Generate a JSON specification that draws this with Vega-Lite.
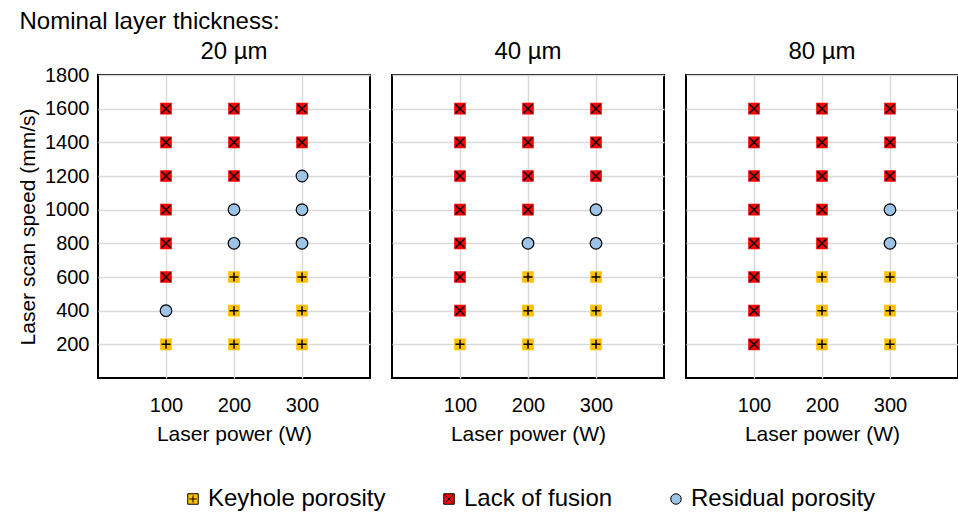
{
  "$schema": "https://vega.github.io/schema/vega-lite/v6.json",
  "padding": {"left": 17, "top": 10, "right": 0, "bottom": 0},
  "title": {"text": "Nominal layer thickness:", "anchor": "start", "frame": "bounds", "fontSize": 24, "font": "Liberation Sans", "fontWeight": "normal", "color": "black", "offset": 6, "dx": 2},
  "data": {"values": [
    {"t": "20 µm", "p": 100, "s": 200, "c": "Keyhole porosity"},
    {"t": "20 µm", "p": 100, "s": 400, "c": "Residual porosity"},
    {"t": "20 µm", "p": 100, "s": 600, "c": "Lack of fusion"},
    {"t": "20 µm", "p": 100, "s": 800, "c": "Lack of fusion"},
    {"t": "20 µm", "p": 100, "s": 1000, "c": "Lack of fusion"},
    {"t": "20 µm", "p": 100, "s": 1200, "c": "Lack of fusion"},
    {"t": "20 µm", "p": 100, "s": 1400, "c": "Lack of fusion"},
    {"t": "20 µm", "p": 100, "s": 1600, "c": "Lack of fusion"},
    {"t": "20 µm", "p": 200, "s": 200, "c": "Keyhole porosity"},
    {"t": "20 µm", "p": 200, "s": 400, "c": "Keyhole porosity"},
    {"t": "20 µm", "p": 200, "s": 600, "c": "Keyhole porosity"},
    {"t": "20 µm", "p": 200, "s": 800, "c": "Residual porosity"},
    {"t": "20 µm", "p": 200, "s": 1000, "c": "Residual porosity"},
    {"t": "20 µm", "p": 200, "s": 1200, "c": "Lack of fusion"},
    {"t": "20 µm", "p": 200, "s": 1400, "c": "Lack of fusion"},
    {"t": "20 µm", "p": 200, "s": 1600, "c": "Lack of fusion"},
    {"t": "20 µm", "p": 300, "s": 200, "c": "Keyhole porosity"},
    {"t": "20 µm", "p": 300, "s": 400, "c": "Keyhole porosity"},
    {"t": "20 µm", "p": 300, "s": 600, "c": "Keyhole porosity"},
    {"t": "20 µm", "p": 300, "s": 800, "c": "Residual porosity"},
    {"t": "20 µm", "p": 300, "s": 1000, "c": "Residual porosity"},
    {"t": "20 µm", "p": 300, "s": 1200, "c": "Residual porosity"},
    {"t": "20 µm", "p": 300, "s": 1400, "c": "Lack of fusion"},
    {"t": "20 µm", "p": 300, "s": 1600, "c": "Lack of fusion"},
    {"t": "40 µm", "p": 100, "s": 200, "c": "Keyhole porosity"},
    {"t": "40 µm", "p": 100, "s": 400, "c": "Lack of fusion"},
    {"t": "40 µm", "p": 100, "s": 600, "c": "Lack of fusion"},
    {"t": "40 µm", "p": 100, "s": 800, "c": "Lack of fusion"},
    {"t": "40 µm", "p": 100, "s": 1000, "c": "Lack of fusion"},
    {"t": "40 µm", "p": 100, "s": 1200, "c": "Lack of fusion"},
    {"t": "40 µm", "p": 100, "s": 1400, "c": "Lack of fusion"},
    {"t": "40 µm", "p": 100, "s": 1600, "c": "Lack of fusion"},
    {"t": "40 µm", "p": 200, "s": 200, "c": "Keyhole porosity"},
    {"t": "40 µm", "p": 200, "s": 400, "c": "Keyhole porosity"},
    {"t": "40 µm", "p": 200, "s": 600, "c": "Keyhole porosity"},
    {"t": "40 µm", "p": 200, "s": 800, "c": "Residual porosity"},
    {"t": "40 µm", "p": 200, "s": 1000, "c": "Lack of fusion"},
    {"t": "40 µm", "p": 200, "s": 1200, "c": "Lack of fusion"},
    {"t": "40 µm", "p": 200, "s": 1400, "c": "Lack of fusion"},
    {"t": "40 µm", "p": 200, "s": 1600, "c": "Lack of fusion"},
    {"t": "40 µm", "p": 300, "s": 200, "c": "Keyhole porosity"},
    {"t": "40 µm", "p": 300, "s": 400, "c": "Keyhole porosity"},
    {"t": "40 µm", "p": 300, "s": 600, "c": "Keyhole porosity"},
    {"t": "40 µm", "p": 300, "s": 800, "c": "Residual porosity"},
    {"t": "40 µm", "p": 300, "s": 1000, "c": "Residual porosity"},
    {"t": "40 µm", "p": 300, "s": 1200, "c": "Lack of fusion"},
    {"t": "40 µm", "p": 300, "s": 1400, "c": "Lack of fusion"},
    {"t": "40 µm", "p": 300, "s": 1600, "c": "Lack of fusion"},
    {"t": "80 µm", "p": 100, "s": 200, "c": "Lack of fusion"},
    {"t": "80 µm", "p": 100, "s": 400, "c": "Lack of fusion"},
    {"t": "80 µm", "p": 100, "s": 600, "c": "Lack of fusion"},
    {"t": "80 µm", "p": 100, "s": 800, "c": "Lack of fusion"},
    {"t": "80 µm", "p": 100, "s": 1000, "c": "Lack of fusion"},
    {"t": "80 µm", "p": 100, "s": 1200, "c": "Lack of fusion"},
    {"t": "80 µm", "p": 100, "s": 1400, "c": "Lack of fusion"},
    {"t": "80 µm", "p": 100, "s": 1600, "c": "Lack of fusion"},
    {"t": "80 µm", "p": 200, "s": 200, "c": "Keyhole porosity"},
    {"t": "80 µm", "p": 200, "s": 400, "c": "Keyhole porosity"},
    {"t": "80 µm", "p": 200, "s": 600, "c": "Keyhole porosity"},
    {"t": "80 µm", "p": 200, "s": 800, "c": "Lack of fusion"},
    {"t": "80 µm", "p": 200, "s": 1000, "c": "Lack of fusion"},
    {"t": "80 µm", "p": 200, "s": 1200, "c": "Lack of fusion"},
    {"t": "80 µm", "p": 200, "s": 1400, "c": "Lack of fusion"},
    {"t": "80 µm", "p": 200, "s": 1600, "c": "Lack of fusion"},
    {"t": "80 µm", "p": 300, "s": 200, "c": "Keyhole porosity"},
    {"t": "80 µm", "p": 300, "s": 400, "c": "Keyhole porosity"},
    {"t": "80 µm", "p": 300, "s": 600, "c": "Keyhole porosity"},
    {"t": "80 µm", "p": 300, "s": 800, "c": "Residual porosity"},
    {"t": "80 µm", "p": 300, "s": 1000, "c": "Residual porosity"},
    {"t": "80 µm", "p": 300, "s": 1200, "c": "Lack of fusion"},
    {"t": "80 µm", "p": 300, "s": 1400, "c": "Lack of fusion"},
    {"t": "80 µm", "p": 300, "s": 1600, "c": "Lack of fusion"}
  ]},
  "facet": {
    "column": {"field": "t", "type": "ordinal", "sort": ["20 µm", "40 µm", "80 µm"],
      "header": {"title": null, "labelFontSize": 24, "labelFont": "Liberation Sans", "labelColor": "black", "labelPadding": 10}}
  },
  "spacing": 20,
  "spec": {
    "width": 272,
    "height": 303,
    "encoding": {
      "x": {"field": "p", "type": "quantitative", "scale": {"domain": [0, 400], "nice": false},
        "axis": {"values": [100, 200, 300], "title": "Laser power (W)", "labelPadding": 16, "titlePadding": 8}},
      "y": {"field": "s", "type": "quantitative", "scale": {"domain": [0, 1800], "nice": false},
        "axis": {"values": [200, 400, 600, 800, 1000, 1200, 1400, 1600, 1800], "format": "d", "title": "Laser scan speed (mm/s)", "labelPadding": 8, "titlePadding": 6}}
    },
    "layer": [
      {
        "mark": {"type": "point", "filled": true, "opacity": 1, "size": 135},
        "encoding": {
          "shape": {"field": "c", "type": "nominal",
            "scale": {"domain": ["Keyhole porosity", "Lack of fusion", "Residual porosity"],
              "range": ["M-1,-1H1V1H-1Z M-0.7,0H0.7 M0,-0.7V0.7", "M-1,-1H1V1H-1Z M-0.7,-0.7L0.7,0.7 M-0.7,0.7L0.7,-0.7", "circle"]},
            "legend": {"title": null, "orient": "none", "legendX": 83, "legendY": 412, "direction": "horizontal",
              "labelFontSize": 24, "labelFont": "Liberation Sans", "labelColor": "black", "labelLimit": 400, "symbolSize": 110,
              "columnPadding": 51, "labelOffset": 3, "symbolOpacity": 1,
              "encode": {"symbols": {"update": {"stroke": {"value": "black"}, "strokeWidth": {"value": 1}}}}}},
          "fill": {"field": "c", "type": "nominal",
            "scale": {"domain": ["Keyhole porosity", "Lack of fusion", "Residual porosity"],
              "range": ["#FFC000", "#FF0000", "#9DC3E6"]},
            "legend": {"title": null, "orient": "none", "legendX": 83, "legendY": 412, "direction": "horizontal",
              "labelFontSize": 24, "labelFont": "Liberation Sans", "labelColor": "black", "labelLimit": 400, "symbolSize": 110,
              "columnPadding": 51, "labelOffset": 3, "symbolOpacity": 1,
              "encode": {"symbols": {"update": {"stroke": {"value": "black"}, "strokeWidth": {"value": 1}}}}}}
        }
      },
      {
        "transform": [{"filter": "datum.c === 'Keyhole porosity'"}],
        "mark": {"type": "point", "filled": false, "opacity": 1, "shape": "M-1,0H1M0,-1V1", "size": 81, "stroke": "black", "strokeWidth": 1.5},
        "encoding": {}
      },
      {
        "transform": [{"filter": "datum.c === 'Lack of fusion'"}],
        "mark": {"type": "point", "filled": false, "opacity": 1, "shape": "M-1,-1L1,1M-1,1L1,-1", "size": 81, "stroke": "black", "strokeWidth": 1.5},
        "encoding": {}
      },
      {
        "transform": [{"filter": "datum.c === 'Residual porosity'"}],
        "mark": {"type": "point", "filled": false, "opacity": 1, "shape": "circle", "size": 135, "stroke": "black", "strokeWidth": 1.2},
        "encoding": {}
      }
    ]
  },
  "config": {
    "view": {"stroke": "black", "strokeWidth": 2},
    "axis": {"domain": false, "ticks": false, "gridColor": "#d9d9d9", "gridWidth": 1.5,
      "labelFont": "Liberation Sans", "labelFontSize": 20, "labelColor": "black",
      "titleFont": "Liberation Sans", "titleFontSize": 21, "titleFontWeight": "normal", "titleColor": "black"}
  }
}
